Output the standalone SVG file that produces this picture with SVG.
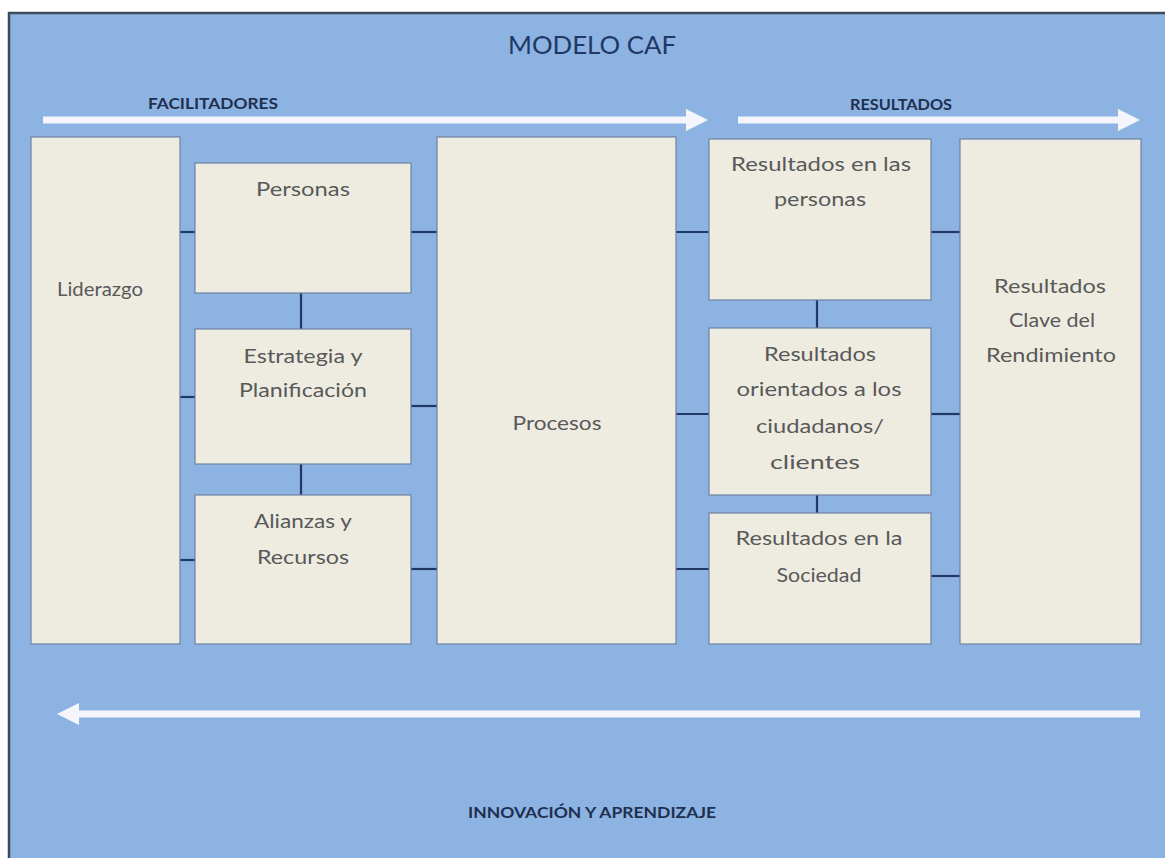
<svg xmlns="http://www.w3.org/2000/svg" width="1165" height="858" viewBox="0 0 1165 858">
<style>
.box{fill:#EEECE1;stroke:#6F82A0;stroke-width:1.2}
.lbl{font-family:Lato,"Liberation Sans",sans-serif;font-size:19.5px;fill:#595959;text-anchor:middle}
.hdr{font-family:Lato,"Liberation Sans",sans-serif;font-weight:bold;font-size:15px;fill:#1F2F4F;text-anchor:middle}
.title{font-family:Lato,"Liberation Sans",sans-serif;font-size:25px;fill:#1F3864;text-anchor:middle}
.conn line{stroke:#1F3864;stroke-width:2.2}
.arrow{stroke:#F4F6FB;stroke-width:7;fill:none}
.head{fill:#F4F6FB}
</style>
<rect x="0" y="0" width="1165" height="858" fill="#FFFFFF"/>
<rect x="9" y="13" width="1160" height="850" fill="#8DB3E2" stroke="#3E4A5C" stroke-width="2.5"/>
<text class="title" x="592" y="54" textLength="168" lengthAdjust="spacingAndGlyphs">MODELO CAF</text>
<text class="hdr" x="213" y="109" textLength="130" lengthAdjust="spacingAndGlyphs">FACILITADORES</text>
<text class="hdr" x="901" y="110" textLength="102" lengthAdjust="spacingAndGlyphs">RESULTADOS</text>
<text class="hdr" x="592" y="818" textLength="248" lengthAdjust="spacingAndGlyphs">INNOVACIÓN Y APRENDIZAJE</text>
<g id="arrows">
<line class="arrow" x1="43" y1="120" x2="690" y2="120"/>
<polygon class="head" points="686,109 708,120 686,131"/>
<line class="arrow" x1="738" y1="120" x2="1122" y2="120"/>
<polygon class="head" points="1118,109 1140,120 1118,131"/>
<line class="arrow" x1="1140" y1="714" x2="74" y2="714"/>
<polygon class="head" points="79,703 57,714 79,725"/>
</g>
<g class="conn" id="connectors">
<line x1="180" y1="232" x2="195" y2="232"/>
<line x1="180" y1="397" x2="195" y2="397"/>
<line x1="180" y1="560" x2="195" y2="560"/>
<line x1="301" y1="293" x2="301" y2="329"/>
<line x1="301" y1="464" x2="301" y2="495"/>
<line x1="411" y1="232" x2="437" y2="232"/>
<line x1="411" y1="406" x2="437" y2="406"/>
<line x1="411" y1="569" x2="437" y2="569"/>
<line x1="676" y1="232" x2="709" y2="232"/>
<line x1="676" y1="414" x2="709" y2="414"/>
<line x1="676" y1="569" x2="709" y2="569"/>
<line x1="817" y1="300" x2="817" y2="328"/>
<line x1="817" y1="495" x2="817" y2="513"/>
<line x1="931" y1="232" x2="960" y2="232"/>
<line x1="931" y1="414" x2="960" y2="414"/>
<line x1="931" y1="576" x2="960" y2="576"/>
</g>
<g id="liderazgo"><rect class="box" x="31" y="137" width="149" height="507"/>
<text class="lbl" x="100" y="296" textLength="86" lengthAdjust="spacingAndGlyphs">Liderazgo</text></g>
<g id="personas"><rect class="box" x="195" y="163" width="216" height="130"/>
<text class="lbl" x="303" y="196" textLength="94" lengthAdjust="spacingAndGlyphs">Personas</text></g>
<g id="estrategia"><rect class="box" x="195" y="329" width="216" height="135"/>
<text class="lbl" x="303" y="363" textLength="119" lengthAdjust="spacingAndGlyphs">Estrategia y</text>
<text class="lbl" x="303" y="397" textLength="128" lengthAdjust="spacingAndGlyphs">Planificación</text></g>
<g id="alianzas"><rect class="box" x="195" y="495" width="216" height="149"/>
<text class="lbl" x="303" y="528" textLength="98" lengthAdjust="spacingAndGlyphs">Alianzas y</text>
<text class="lbl" x="303" y="564" textLength="92" lengthAdjust="spacingAndGlyphs">Recursos</text></g>
<g id="procesos"><rect class="box" x="437" y="137" width="239" height="507"/>
<text class="lbl" x="557" y="430" textLength="89" lengthAdjust="spacingAndGlyphs">Procesos</text></g>
<g id="res-personas"><rect class="box" x="709" y="139" width="222" height="161"/>
<text class="lbl" x="821" y="171" textLength="180" lengthAdjust="spacingAndGlyphs">Resultados en las</text>
<text class="lbl" x="820" y="206" textLength="92" lengthAdjust="spacingAndGlyphs">personas</text></g>
<g id="res-ciudadanos"><rect class="box" x="709" y="328" width="222" height="167"/>
<text class="lbl" x="820" y="361" textLength="112" lengthAdjust="spacingAndGlyphs">Resultados</text>
<text class="lbl" x="819" y="396" textLength="165" lengthAdjust="spacingAndGlyphs">orientados a los</text>
<text class="lbl" x="820" y="433" textLength="128" lengthAdjust="spacingAndGlyphs">ciudadanos/</text>
<text class="lbl" x="815" y="469" textLength="90" lengthAdjust="spacingAndGlyphs">clientes</text></g>
<g id="res-sociedad"><rect class="box" x="709" y="513" width="222" height="131"/>
<text class="lbl" x="819" y="545" textLength="167" lengthAdjust="spacingAndGlyphs">Resultados en la</text>
<text class="lbl" x="819" y="582" textLength="85" lengthAdjust="spacingAndGlyphs">Sociedad</text></g>
<g id="res-clave"><rect class="box" x="960" y="139" width="181" height="505"/>
<text class="lbl" x="1050" y="293" textLength="112" lengthAdjust="spacingAndGlyphs">Resultados</text>
<text class="lbl" x="1052" y="327" textLength="86" lengthAdjust="spacingAndGlyphs">Clave del</text>
<text class="lbl" x="1051" y="362" textLength="130" lengthAdjust="spacingAndGlyphs">Rendimiento</text></g>
</svg>
